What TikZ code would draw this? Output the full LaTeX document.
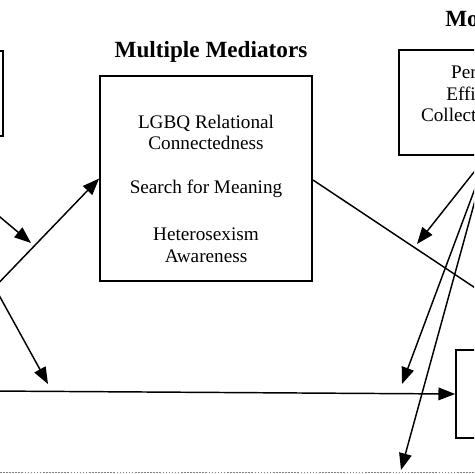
\documentclass[tikz,border=0pt]{standalone}
\usepackage{fontspec}
\setmainfont{Liberation Serif}
\usetikzlibrary{arrows.meta}
\tikzset{
  boxstyle/.style={draw, line width=1.3pt, inner sep=0pt},
  arr/.style={line width=1.1pt, -{Triangle[length=12.5pt,width=9.5pt]}},
  plainline/.style={line width=1.1pt},
  bodytext/.style={font=\fontsize{14.4}{16}\selectfont, align=center, inner sep=0pt},
  titletext/.style={font=\fontsize{17.4}{20}\selectfont\bfseries, inner sep=0pt}
}
\begin{document}
\begin{tikzpicture}[x=0.75pt,y=-0.75pt]
\clip (0,0) rectangle (474,474);
% boxes
\node[boxstyle, minimum width=192*0.75pt, minimum height=85*0.75pt] (lmod) at (-93,93.5) {};
\node[boxstyle, minimum width=212*0.75pt, minimum height=205*0.75pt] (med) at (206,178.5) {};
\node[boxstyle, minimum width=178*0.75pt, minimum height=105*0.75pt] (rmod) at (488,102.5) {};
\node[boxstyle, minimum width=160*0.75pt, minimum height=88*0.75pt] (yout) at (536,394) {};
% titles
\node[titletext, anchor=base] (medtitle) at (211,58) {Multiple Mediators};
\node[titletext, anchor=base west] (modtitle) at (445,27) {Moderator};
% mediator text
\node[bodytext, anchor=base] (m1) at (206,128) {LGBQ Relational};
\node[bodytext, anchor=base] (m2) at (206,149) {Connectedness};
\node[bodytext, anchor=base] (m3) at (206,193) {Search for Meaning};
\node[bodytext, anchor=base] (m4) at (206,240) {Heterosexism};
\node[bodytext, anchor=base] (m5) at (206,262) {Awareness};
% moderator text
\node[bodytext, anchor=base] (r1) at (489,79) {Perceived};
\node[bodytext, anchor=base] (r2) at (489,101) {Efficacy of};
\node[bodytext, anchor=base] (r3) at (489,122) {Collective Action};
% coordinates
\coordinate (xs1) at (-10,292);
\coordinate (xs2) at (-10,391);
\coordinate (ls1) at (-96.6,136);
\coordinate (ls3) at (-88.8,136);
\coordinate (t4) at (31,243);
\coordinate (t5) at (48,384);
\coordinate (rs) at (487.5,155);
\coordinate (t1) at (417,244);
\coordinate (t2) at (402,384);
\coordinate (t3) at (401,470);
\coordinate (medout) at (313,180);
\coordinate (outend) at (600,371);
% connectors
\draw[arr] (xs1) -- (med.west);
\draw[arr] (xs2) -- (yout.west);
\draw[arr] (ls1) -- (t4);
\draw[arr] (ls3) -- (t5);
\draw[plainline] (medout) -- (outend);
\draw[arr] (rs) -- (t1);
\draw[arr] (rs) -- (t2);
\draw[arr] (rs) -- (t3);
% dotted bottom line
\coordinate (dl) at (0,472.5);
\coordinate (dr) at (474,472.5);
\draw[gray, line width=1.2pt, dash pattern=on 1.2pt off 1.1pt] (dl) -- (dr);
\end{tikzpicture}
\end{document}
